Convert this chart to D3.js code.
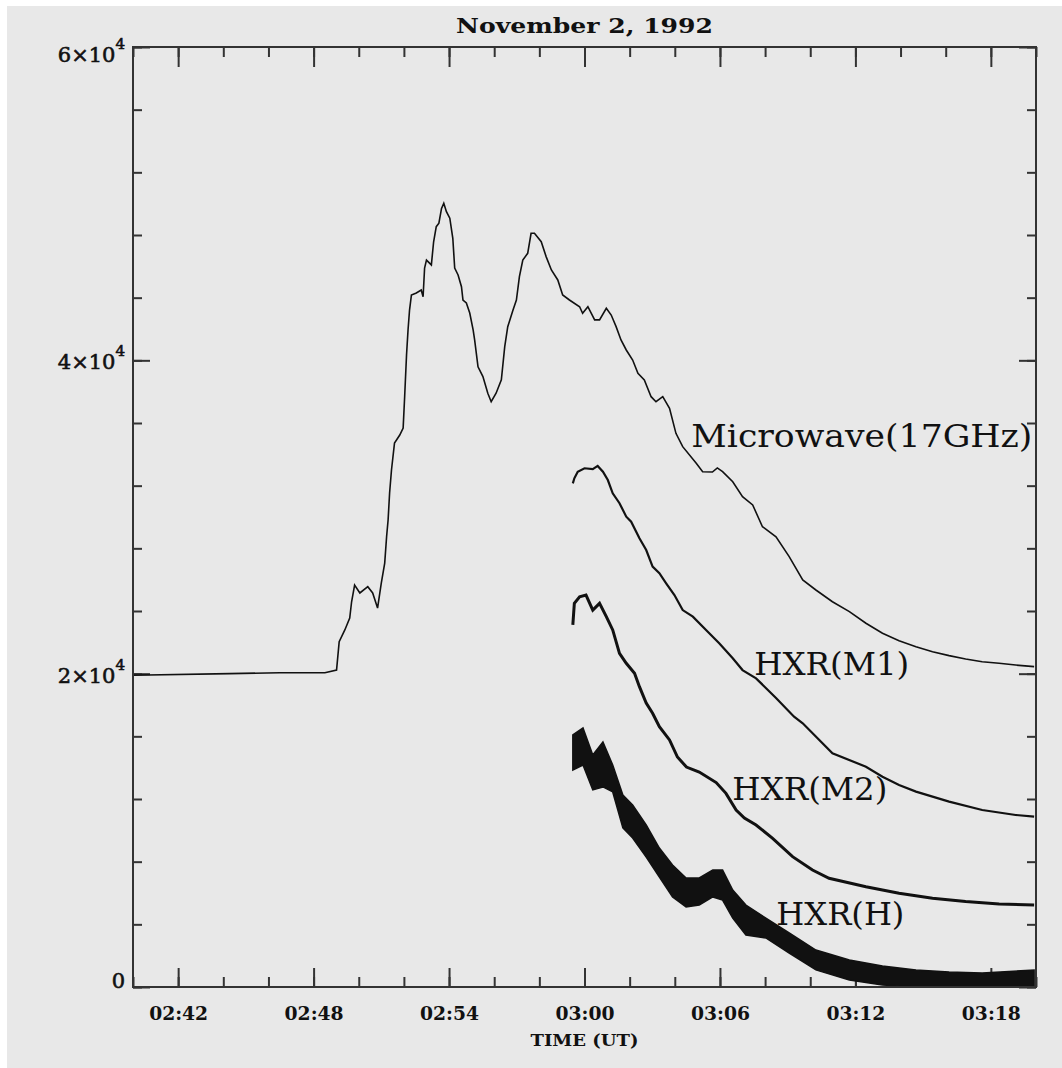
<!DOCTYPE html>
<html>
<head>
<meta charset="utf-8">
<script src="https://cdn.jsdelivr.net/npm/d3@7"></script>
<style>
  body { margin: 0; background: #fff; }
  text { font-family: "DejaVu Serif", serif; fill: #111; }
</style>
</head>
<body>
<script>
// tick labels
var xTickLabels = ["02:42", "02:48", "02:54", "03:00", "03:06", "03:12", "03:18"];
var yTicks = [0, 20000, 40000, 60000];
var yTickLabels = ["0", "2×10^4", "4×10^4", "6×10^4"];
var seriesLabels = ["Microwave(17GHz)", "HXR(M1)", "HXR(M2)", "HXR(H)"];

// [time UT, flux]
var microwave = [
  ["02:40:00", 19900], ["02:44:17", 20000], ["02:46:30", 20060], ["02:48:30", 20060],
  ["02:49:01", 20230], ["02:49:08", 22040], ["02:49:23", 22790], ["02:49:36", 23550],
  ["02:49:41", 24590], ["02:49:49", 25660], ["02:50:03", 25150], ["02:50:24", 25550],
  ["02:50:37", 25150], ["02:50:50", 24190], ["02:51:00", 25790], ["02:51:09", 27060],
  ["02:51:14", 28740], ["02:51:18", 29810], ["02:51:22", 31530], ["02:51:27", 33000],
  ["02:51:35", 34720], ["02:51:49", 35230], ["02:51:58", 35680], ["02:52:02", 37680],
  ["02:52:07", 40340], ["02:52:11", 41940], ["02:52:15", 43210], ["02:52:20", 44170],
  ["02:52:33", 44300], ["02:52:46", 44490], ["02:52:51", 44060], ["02:52:55", 45890],
  ["02:53:00", 46400], ["02:53:13", 46090], ["02:53:19", 47570], ["02:53:26", 48530],
  ["02:53:33", 48750], ["02:53:40", 49700], ["02:53:46", 50020], ["02:53:53", 49490],
  ["02:54:02", 49070], ["02:54:10", 47790], ["02:54:15", 45890], ["02:54:24", 45450],
  ["02:54:33", 44700], ["02:54:37", 43850], ["02:54:46", 43660], ["02:54:55", 43020],
  ["02:55:04", 41940], ["02:55:08", 41300], ["02:55:17", 39590], ["02:55:30", 38960],
  ["02:55:43", 37900], ["02:55:52", 37360], ["02:56:05", 37900], ["02:56:19", 38750],
  ["02:56:28", 40870], ["02:56:36", 42150], ["02:56:50", 43210], ["02:56:59", 43850],
  ["02:57:07", 45340], ["02:57:16", 46400], ["02:57:29", 46830], ["02:57:38", 48110],
  ["02:57:47", 48110], ["02:58:05", 47570], ["02:58:18", 46620], ["02:58:32", 45770],
  ["02:58:49", 45130], ["02:59:02", 44170], ["02:59:20", 43850], ["02:59:47", 43420],
  ["02:59:55", 43000], ["03:00:09", 43420], ["03:00:27", 42580], ["03:00:40", 42580],
  ["03:00:58", 43320], ["03:01:11", 42890], ["03:01:24", 42150], ["03:01:37", 41300],
  ["03:01:51", 40660], ["03:02:08", 40020], ["03:02:22", 39170], ["03:02:39", 38750],
  ["03:02:57", 37680], ["03:03:10", 37360], ["03:03:28", 37680], ["03:03:46", 36940],
  ["03:04:03", 35340], ["03:04:21", 34490], ["03:04:57", 33430], ["03:05:14", 32890],
  ["03:05:40", 32870], ["03:05:53", 33130], ["03:06:07", 32890], ["03:06:34", 32250],
  ["03:07:00", 31300], ["03:07:27", 30770], ["03:07:53", 29380], ["03:08:29", 28740],
  ["03:09:04", 27470], ["03:09:40", 25980], ["03:10:15", 25340], ["03:10:59", 24590],
  ["03:11:44", 23960], ["03:12:28", 23220], ["03:13:12", 22580], ["03:13:56", 22100],
  ["03:14:41", 21720], ["03:15:25", 21400], ["03:16:09", 21150], ["03:16:53", 20940],
  ["03:17:37", 20760], ["03:18:22", 20660], ["03:19:06", 20550], ["03:19:55", 20450]
];

var hxrM1 = [
  ["02:59:29", 32150], ["02:59:33", 32470], ["02:59:42", 32890], ["03:00:00", 33110],
  ["03:00:22", 33050], ["03:00:35", 33260], ["03:00:49", 32890], ["03:01:02", 32360],
  ["03:01:15", 31510], ["03:01:33", 30880], ["03:01:51", 30020], ["03:02:04", 29700],
  ["03:02:26", 28640], ["03:02:44", 27890], ["03:03:01", 26830], ["03:03:19", 26410],
  ["03:03:37", 25770], ["03:03:59", 25020], ["03:04:21", 24060], ["03:04:48", 23640],
  ["03:05:23", 22790], ["03:05:58", 21940], ["03:06:34", 20980], ["03:07:00", 20230],
  ["03:07:36", 19700], ["03:08:29", 18450], ["03:09:17", 17250], ["03:09:40", 16830],
  ["03:10:59", 14920], ["03:12:28", 14060], ["03:13:12", 13420], ["03:13:56", 12890],
  ["03:14:41", 12470], ["03:16:09", 11830], ["03:17:37", 11300], ["03:19:06", 10980],
  ["03:19:55", 10870]
];

var hxrM2 = [
  ["02:59:29", 23110], ["02:59:33", 24490], ["02:59:47", 24910], ["03:00:04", 25020],
  ["03:00:22", 24060], ["03:00:40", 24490], ["03:00:58", 23640], ["03:01:15", 22790],
  ["03:01:33", 21300], ["03:01:51", 20660], ["03:02:13", 20020], ["03:02:26", 19170],
  ["03:02:44", 18130], ["03:03:01", 17470], ["03:03:19", 16620], ["03:03:46", 15770],
  ["03:04:07", 14680], ["03:04:31", 14040], ["03:05:05", 13720], ["03:05:50", 13050],
  ["03:06:16", 12360], ["03:06:43", 11300], ["03:07:05", 10790], ["03:07:36", 10340],
  ["03:08:20", 9490], ["03:09:13", 8320], ["03:10:06", 7470], ["03:10:50", 6940],
  ["03:12:28", 6400], ["03:13:56", 5980], ["03:15:25", 5660], ["03:16:53", 5450],
  ["03:18:22", 5300], ["03:19:55", 5230]
];

// [time UT, low, high] of the noisy band
var hxrH = [
  ["02:59:29", 13850, 16090], ["02:59:56", 14170, 16530], ["03:00:22", 12580, 14810],
  ["03:00:49", 12770, 15640], ["03:01:15", 12450, 14170], ["03:01:42", 10150, 12260],
  ["03:02:08", 9510, 11620], ["03:02:44", 8300, 10340], ["03:03:19", 7020, 8870],
  ["03:03:54", 5750, 7790], ["03:04:30", 5110, 6960], ["03:05:05", 5230, 6960],
  ["03:05:41", 5750, 7470], ["03:06:07", 5550, 7470], ["03:06:34", 4400, 6190],
  ["03:07:09", 3320, 5230], ["03:08:02", 3130, 4400], ["03:09:04", 2170, 3450],
  ["03:10:15", 1090, 2360], ["03:11:44", 450, 1720], ["03:13:12", 130, 1340],
  ["03:14:41", 0, 1090], ["03:16:09", 0, 960], ["03:17:37", 0, 890],
  ["03:19:55", 0, 1090]
];

var margin = {top: 47, right: 26, bottom: 81, left: 133},
    width = 1062 - margin.left - margin.right,
    height = 1068 - margin.top - margin.bottom;

var parseTime = d3.timeParse("%H:%M:%S"),
    parseHM = d3.timeParse("%H:%M");

var x = d3.scaleTime().domain([parseHM("02:40"), parseHM("03:20")]).range([0, width]),
    y = d3.scaleLinear().domain([0, 60000]).range([height, 0]);

var svg = d3.select("body").append("svg")
    .attr("width", 1062)
    .attr("height", 1068);

svg.append("rect")
    .attr("x", 7).attr("y", 6)
    .attr("width", 1055).attr("height", 1062)
    .attr("fill", "#e8e8e8");

var g = svg.append("g").attr("transform", "translate(" + margin.left + "," + margin.top + ")");

// title
svg.append("text")
    .attr("x", margin.left + width / 2)
    .attr("y", 33)
    .attr("text-anchor", "middle")
    .attr("font-size", 20)
    .attr("font-weight", 600)
    .attr("textLength", 257)
    .attr("lengthAdjust", "spacingAndGlyphs")
    .text("November 2, 1992");

var xMajor = xTickLabels.map(function(d) { return parseHM(d); }),
    xMinor = x.ticks(d3.timeMinute.every(2)),
    yMinor = d3.range(0, 60001, 4000);

function noDomain(sel) { sel.select(".domain").remove(); }

// ticks, all pointing inwards
g.append("g").attr("transform", "translate(0," + height + ")")
    .call(d3.axisBottom(x).tickValues(xMinor).tickSize(-10).tickFormat("")).call(noDomain);
g.append("g").attr("class", "axis axis--x").attr("transform", "translate(0," + height + ")")
    .call(d3.axisBottom(x).tickValues(xMajor).tickSize(-19).tickPadding(33).tickFormat(d3.timeFormat("%H:%M")))
    .call(noDomain);
g.append("g")
    .call(d3.axisTop(x).tickValues(xMinor).tickSize(-10).tickFormat("")).call(noDomain);
g.append("g")
    .call(d3.axisTop(x).tickValues(xMajor).tickSize(-20).tickFormat("")).call(noDomain);

g.append("g")
    .call(d3.axisLeft(y).tickValues(yMinor).tickSize(-9).tickFormat("")).call(noDomain);
g.append("g")
    .call(d3.axisLeft(y).tickValues(yTicks).tickSize(-17).tickFormat("")).call(noDomain);
g.append("g").attr("transform", "translate(" + width + ",0)")
    .call(d3.axisRight(y).tickValues(yMinor).tickSize(-9).tickFormat("")).call(noDomain);
g.append("g").attr("transform", "translate(" + width + ",0)")
    .call(d3.axisRight(y).tickValues(yTicks).tickSize(-17).tickFormat("")).call(noDomain);

g.selectAll(".tick line").attr("stroke", "#333").attr("stroke-width", 2);

g.select(".axis--x").selectAll("text")
    .attr("font-family", "DejaVu Serif")
    .attr("font-size", 18)
    .attr("font-weight", "bold")
    .attr("fill", "#111")
    .attr("dy", 0)
    .attr("textLength", 59)
    .attr("lengthAdjust", "spacingAndGlyphs");

svg.append("text")
    .attr("x", margin.left + width / 2)
    .attr("y", 1046)
    .attr("text-anchor", "middle")
    .attr("font-size", 17)
    .attr("font-weight", "bold")
    .attr("textLength", 108)
    .attr("lengthAdjust", "spacingAndGlyphs")
    .text("TIME (UT)");

// y labels: mantissa with raised exponent in one text, right aligned
yTicks.forEach(function(v, i) {
  var parts = yTickLabels[i].split("^"),
      base = v === 60000 ? 15 : (v === 0 ? 1 : 9);
  var t = g.append("text")
      .attr("x", -8)
      .attr("y", y(v) + base)
      .attr("text-anchor", "end")
      .attr("font-size", 21)
      .attr("stroke", "#111")
      .attr("stroke-width", 0.6);
  t.append("tspan").text(parts[0]);
  if (parts.length > 1) {
    t.append("tspan").attr("dy", -13).attr("font-size", 15).text(parts[1]);
  }
});

var line = d3.line()
    .x(function(d) { return x(parseTime(d[0])); })
    .y(function(d) { return y(d[1]); });

var band = d3.area()
    .x(function(d) { return x(parseTime(d[0])); })
    .y0(function(d) { return y(d[1]); })
    .y1(function(d) { return y(d[2]); });

g.append("path").datum(microwave)
    .attr("d", line).attr("fill", "none").attr("stroke", "#111").attr("stroke-width", 1.6);
g.append("path").datum(hxrM1)
    .attr("d", line).attr("fill", "none").attr("stroke", "#111").attr("stroke-width", 2.2);
g.append("path").datum(hxrM2)
    .attr("d", line).attr("fill", "none").attr("stroke", "#111").attr("stroke-width", 3);
g.append("path").datum(hxrH)
    .attr("d", band).attr("fill", "#111").attr("stroke", "#111").attr("stroke-width", 1.5);

// series labels: [left time, baseline value, width]
var labelAt = [["03:04:44", 34470, 341], ["03:07:31", 19920, 155], ["03:06:33", 11940, 155], ["03:08:30", 3960, 128]];

seriesLabels.forEach(function(s, i) {
  g.append("text")
      .attr("x", x(parseTime(labelAt[i][0])))
      .attr("y", y(labelAt[i][1]))
      .attr("font-size", 32)
      .attr("textLength", labelAt[i][2])
      .attr("lengthAdjust", "spacingAndGlyphs")
      .text(s);
});

// frame
g.append("rect")
    .attr("width", width).attr("height", height)
    .attr("fill", "none").attr("stroke", "#333").attr("stroke-width", 2);
</script>
</body>
</html>
